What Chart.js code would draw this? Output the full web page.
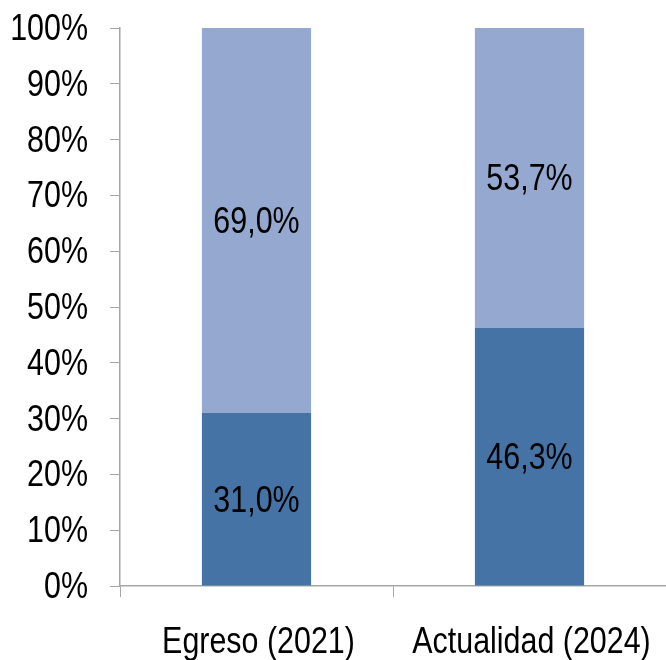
<!DOCTYPE html>
<html>
<head>
<meta charset="utf-8">
<script src="https://cdn.jsdelivr.net/npm/chart.js@4/dist/chart.umd.min.js"></script>
<style>
  html, body { margin: 0; padding: 0; background: #fff; }
  #wrap { width: 666px; height: 660px; }
</style>
</head>
<body>
<div id="wrap"><canvas id="chart"></canvas></div>
<script>
const categories = ['Egreso (2021)', 'Actualidad (2024)'];
const bottomValues = [31.0, 46.3];
const topValues = [69.0, 53.7];
const yTicks = [0, 10, 20, 30, 40, 50, 60, 70, 80, 90, 100];

const FONT = "36px 'Liberation Sans', Arial, sans-serif";
const SQUEEZE = 0.845; // narrow look, like Arial Narrow

function narrowText(ctx, txt, x, y, align) {
    ctx.save();
    ctx.translate(x, y);
    ctx.scale(SQUEEZE, 1);
    ctx.textAlign = align;
    ctx.fillText(txt, 0, 0);
    ctx.restore();
}

// all texts drawn by hand so they can be condensed
const textLayer = {
    id: 'textLayer',
    afterDraw(chart) {
        const ctx = chart.ctx;
        const xs = chart.scales.x, ys = chart.scales.y;
        ctx.save();
        ctx.font = FONT;
        ctx.fillStyle = '#000';
        ctx.textBaseline = 'alphabetic';

        yTicks.forEach(function(v) {
            narrowText(ctx, v + '%', ys.left + 88, ys.getPixelForValue(v) + 12, 'right');
        });
        categories.forEach(function(c, i) {
            narrowText(ctx, c, xs.getPixelForValue(i) + 2, 653, 'center');
        });
        chart.data.datasets.forEach(function(ds, i) {
            chart.getDatasetMeta(i).data.forEach(function(bar, j) {
                const txt = ds.data[j].toFixed(1).replace('.', ',') + '%';
                narrowText(ctx, txt, bar.x, (bar.y + bar.base) / 2 + 12.5, 'center');
            });
        });
        ctx.restore();
    }
};

const ctx = document.getElementById('chart').getContext('2d');
new Chart(ctx, {
    type: 'bar',
    data: {
        labels: categories,
        datasets: [{
            data: bottomValues,
            backgroundColor: '#4573A6',
            categoryPercentage: 1,
            barPercentage: 0.4
        }, {
            data: topValues,
            backgroundColor: '#95A9D0',
            categoryPercentage: 1,
            barPercentage: 0.4
        }]
    },
    options: {
        responsive: true,
        maintainAspectRatio: false,
        animation: false,
        layout: { padding: { top: 28, right: 0, left: 0, bottom: 0 } },
        plugins: {
            legend: { display: false },
            tooltip: { enabled: false }
        },
        scales: {
            x: {
                stacked: true,
                afterFit: function(s) { s.height = 74; },
                grid: {
                    offset: true,
                    drawOnChartArea: false,
                    drawTicks: true,
                    tickLength: 11,
                    color: '#A6A6A6'
                },
                border: { color: '#A6A6A6', width: 1.5 },
                ticks: { display: false }
            },
            y: {
                stacked: true,
                min: 0,
                max: 100,
                afterFit: function(s) { s.width = 120; },
                afterBuildTicks: function(s) {
                    s.ticks = yTicks.map(function(v) { return { value: v }; });
                },
                grid: {
                    drawOnChartArea: false,
                    drawTicks: true,
                    tickLength: 10,
                    color: '#A6A6A6'
                },
                border: { color: '#A6A6A6', width: 1.5 },
                ticks: { display: false }
            }
        }
    },
    plugins: [textLayer]
});
</script>
</body>
</html>
